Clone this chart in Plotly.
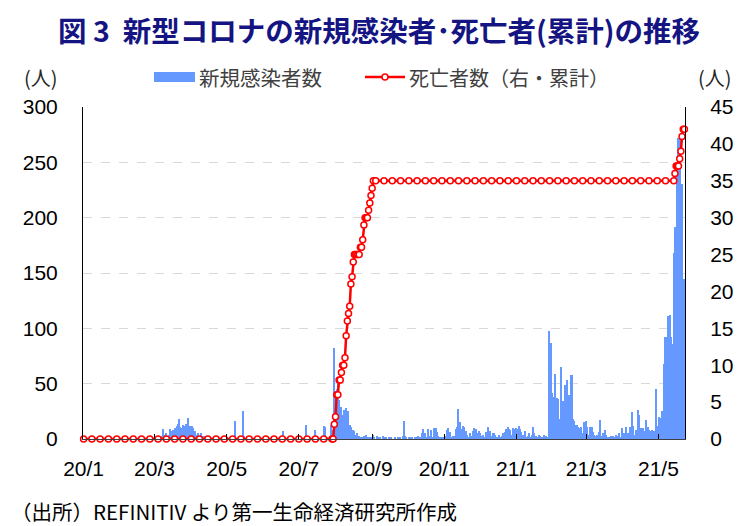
import pandas as pd
import plotly.graph_objects as go

# daily new cases, one value per day starting 2020-01-01
cases_jan_jul_2020 = [
    0, 0, 0, 0, 0, 0, 0, 0, 0, 0,
    0, 0, 0, 0, 0, 0, 0, 0, 0, 0,
    0, 0, 0, 0, 0, 0, 0, 0, 0, 0,
    0, 0, 0, 0, 0, 0, 0, 0, 0, 0,
    0, 0, 0, 0, 0, 0, 0, 0, 0, 0,
    0, 0, 0, 0, 0, 0, 0, 0, 0, 0,
    0, 0, 0, 0, 0, 2, 3, 9, 3, 4,
    5, 3, 4, 9, 6, 7, 8, 10, 9, 12,
    14, 18, 11, 10, 13, 12, 10, 14, 19, 11,
    12, 12, 12, 10, 7, 4, 4, 5, 3, 5,
    2, 3, 3, 1, 2, 0, 1, 0, 0, 0,
    0, 0, 0, 0, 0, 0, 0, 0, 0, 0,
    0, 0, 0, 0, 0, 0, 0, 0, 16, 0,
    0, 0, 0, 0, 0, 25, 3, 0, 0, 0,
    0, 0, 0, 0, 0, 0, 0, 0, 0, 0,
    0, 0, 0, 0, 0, 0, 0, 0, 0, 0,
    0, 0, 0, 0, 0, 0, 0, 0, 0, 7,
    1, 0, 0, 0, 0, 0, 0, 0, 0, 0,
    0, 0, 0, 0, 0, 0, 0, 0, 13, 0,
    2, 0, 0, 0, 0, 0, 8, 0, 0, 0,
    0, 0, 0, 12, 11, 0, 2, 0, 3, 13,
    8, 5,
]
cases_aug_oct_2020 = [
    82, 40, 45, 50, 35, 25, 29, 22, 26, 17,
    28, 20, 25, 13, 11, 7, 8, 7, 4, 5,
    2, 3, 1, 2, 1, 3, 1, 4, 2, 1,
    0, 2, 0, 4, 1, 0, 3, 0, 1, 2,
    0, 3, 0, 1, 2, 0, 1, 0, 1, 0,
    0, 1, 0, 0, 1, 0, 2, 0, 3, 16,
    3, 1, 0, 1, 0, 1, 2, 0, 1, 0,
    1, 3, 1, 2, 5, 9, 2, 5, 1, 9,
    3, 2, 8, 1, 10, 3,
]
cases_oct_jan = [
    10, 6, 3, 2, 1, 0, 1, 0, 3, 8,
    10, 4, 6, 2, 3, 1, 3, 9, 11, 27,
    15, 9, 3, 12, 11, 7, 4, 2, 1, 5,
    3, 7, 10, 8, 9, 5, 7, 5, 3, 1,
    4, 2, 6, 3, 11, 6, 7, 3, 5, 5,
    4, 1, 2, 4, 2, 1, 3, 5, 6, 9,
    3, 11, 9, 8, 4, 10, 6, 9, 10, 9,
    12, 9, 6, 2, 4, 7, 1, 2, 3, 5,
    2, 4, 11, 5, 1, 3, 2, 4, 3, 1,
    2, 4, 1, 3, 1, 2,
]
cases_2021 = [
    98, 87, 42, 38, 37, 59, 37, 36, 18, 18,
    65, 34, 32, 49, 49, 53, 40, 40, 58, 58,
    18, 16, 13, 13, 11, 10, 8, 11, 5, 15,
    12, 16, 11, 4, 11, 11, 11, 6, 4, 3,
    4, 2, 6, 17, 3, 5, 2, 8, 4, 1,
    2, 1, 3, 1, 3, 2, 4, 3, 3, 5,
    2, 10, 5, 5, 5, 11, 5, 3,
    11, 4, 24, 12, 4, 8, 3, 26, 22, 10,
    7, 10, 7, 4, 17, 11, 8, 7, 5, 8,
    7, 3, 45, 8, 12, 20, 19, 25, 25, 68,
    92, 92, 111, 92, 112, 92, 86, 168, 192, 68,
    240, 272, 272, 230, 230, 145, 145,
]

new_cases = cases_jan_jul_2020 + cases_aug_oct_2020 + cases_oct_jan + cases_2021
case_dates = pd.date_range("2020-01-01", periods=len(new_cases), freq="D")

# cumulative deaths (right axis)
deaths_before = 0
deaths_plateau = 35
deaths_first_wave = [0, 2, 3, 6, 6, 8, 8, 9, 10, 10, 11, 14, 16, 17, 18, 21, 22, 24,
                     25, 25, 25, 25, 25, 26, 26, 27, 29, 30, 30, 30, 31, 32, 33, 34, 35]
deaths_may_2021 = [36, 37, 37, 37, 38, 39, 41, 42, 42]

d_before = pd.date_range("2020-01-01", "2020-07-29", freq="7D")
d_wave = pd.date_range("2020-07-30", periods=len(deaths_first_wave), freq="D")
d_plateau = pd.date_range("2020-09-04", "2021-05-14", freq="7D")
d_may = pd.date_range("2021-05-15", periods=len(deaths_may_2021), freq="D")

death_dates = list(d_before) + list(d_wave) + list(d_plateau) + list(d_may)
deaths = ([deaths_before] * len(d_before) + deaths_first_wave
          + [deaths_plateau] * len(d_plateau) + deaths_may_2021)

tick_dates = ["2020-01-01", "2020-03-01", "2020-05-01", "2020-07-01", "2020-09-01",
              "2020-11-01", "2021-01-01", "2021-03-01", "2021-05-01"]
tick_labels = ["20/1", "20/3", "20/5", "20/7", "20/9", "20/11", "21/1", "21/3", "21/5"]

BLUE = "#6699ff"
RED = "#ff0000"
NUM_FONT = "Liberation Sans, Arial, sans-serif"
JP_FONT = "Noto Sans CJK JP, sans-serif"

# the page puts the figure 8px in from the top-left corner
OFF = 8
W, H = 746 - OFF, 526 - OFF
# plot area in page pixels: 83..685 wide, 107..439 tall
L, R, T, B = 83 - OFF, 685 - OFF, 107 - OFF, 439 - OFF

fig = go.Figure()
fig.add_trace(go.Bar(x=case_dates, y=new_cases, marker=dict(color=BLUE, line=dict(width=0)),
                     name="新規感染者数"))
fig.add_trace(go.Scatter(x=death_dates, y=deaths, yaxis="y2", mode="lines+markers",
                         line=dict(color=RED, width=2.5),
                         marker=dict(size=6, color="white", line=dict(color=RED, width=1.5)),
                         cliponaxis=False, name="死亡者数（右・累計）"))


def px(xp):
    return (xp - OFF - L) / (R - L)


def py(yp):
    return (B - (yp - OFF)) / (B - T)


def label(text, x, y, size, color, anchor="center"):
    return dict(text=text, x=px(x), y=py(y), xref="paper", yref="paper", showarrow=False,
                xanchor=anchor, yanchor="middle", font=dict(family=JP_FONT, size=size, color=color))


shapes = [
    dict(type="rect", xref="paper", yref="paper", x0=px(154), x1=px(195), y0=py(82), y1=py(72),
         fillcolor=BLUE, line=dict(width=0)),
    dict(type="line", xref="paper", yref="paper", x0=px(365), x1=px(405), y0=py(77), y1=py(77),
         line=dict(color=RED, width=2.5)),
    dict(type="circle", xref="paper", yref="paper", x0=px(382), x1=px(388), y0=py(80), y1=py(74),
         fillcolor="white", line=dict(color=RED, width=1.5)),
]

annotations = [
    label("(人)", 41, 77, 20, "#262626"),
    label("(人)", 715, 77, 20, "#262626"),
    label("新規感染者数", 197, 77, 20.5, "#404040", "left"),
    label("死亡者数（右・累計）", 407, 77, 20, "#404040", "left"),
    label("（出所）REFINITIV より第一生命経済研究所作成", 9, 511, 20.5, "#000000", "left"),
]

fig.update_layout(
    width=W, height=H,
    margin=dict(l=L, r=W - R, t=T, b=H - B, pad=0),
    paper_bgcolor="white", plot_bgcolor="white",
    showlegend=False, bargap=0,
    title=dict(text="図 3\u00a0\u00a0新型コロナの新規感染者･死亡者(累計)の推移",
               x=(379 - OFF) / W, y=1 - (32 - OFF) / H, xanchor="center", yanchor="middle",
               font=dict(family=JP_FONT, size=28.5, color="#141482", weight="bold")),
    xaxis=dict(type="date", range=["2019-12-31 12:00", "2021-05-23 12:00"],
               tickvals=tick_dates, ticktext=tick_labels, ticks="inside", ticklen=5,
               tickcolor="#000000", showline=True, linecolor="#404040", linewidth=1,
               showgrid=False, ticklabelstandoff=11,
               tickfont=dict(family=NUM_FONT, size=21, color="#000000")),
    yaxis=dict(range=[0, 300], dtick=50, showgrid=True, gridcolor="#d9d9d9", griddash="dash",
               gridwidth=1, zeroline=False, showline=True, linecolor="#000000", ticks="",
               ticklabelstandoff=20, tickfont=dict(family=NUM_FONT, size=21, color="#000000")),
    yaxis2=dict(range=[0, 45], dtick=5, overlaying="y", side="right", showgrid=False,
                zeroline=False, showline=True, linecolor="#000000", ticks="",
                ticklabelstandoff=20, tickfont=dict(family=NUM_FONT, size=21, color="#000000")),
    shapes=shapes, annotations=annotations,
)

fig.write_html("out.html")
